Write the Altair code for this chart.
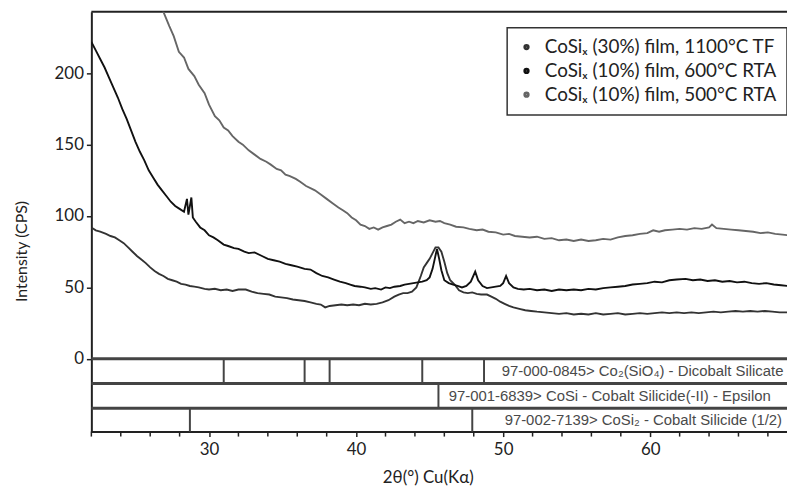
import altair as alt
import pandas as pd

# ---------------- data ----------------
a_x = [25.8, 26.3, 26.9, 27.3, 27.6, 27.95, 28.3, 28.6, 29.0, 29.3, 29.7, 30.0, 30.4, 30.7, 31.0, 31.3, 31.6, 32.0,
       32.3, 32.7, 33.1, 33.5, 33.9, 34.2, 34.6, 34.9, 35.2, 35.5, 35.9, 36.2, 36.6, 37.0, 37.2, 37.6, 38.0, 38.4,
       38.8, 39.1, 39.4, 39.7, 40.0, 40.3, 40.6, 40.9, 41.2, 41.5, 41.8, 42.1, 42.4, 42.7, 43.0, 43.3, 43.6, 43.9,
       44.2, 44.6, 45.0, 45.4, 45.7, 46.0, 46.4, 46.8, 47.3, 47.7, 48.2, 48.6, 49.0, 49.5, 50.0, 50.4, 50.8, 51.3,
       51.8, 52.3, 52.8, 53.3, 53.8, 54.3, 54.8, 55.3, 55.8, 56.3, 56.8, 57.3, 57.8, 58.3, 58.8, 59.3, 59.8, 60.2,
       60.6, 61.0, 61.5, 62.0, 62.5, 63.0, 63.5, 64.0, 64.2, 64.5, 65.0, 65.5, 66.0, 66.5, 67.0, 67.5, 68.0, 68.5,
       69.0, 69.4]
a_y = [270, 257, 243, 233, 226, 215, 211, 203, 198, 192, 186, 178, 170, 167, 162, 160, 156, 152,
       150, 146, 143, 140, 138, 136, 133, 132, 129, 128, 126, 124, 121, 119, 118, 115, 112, 109,
       106, 104, 102, 99, 97, 94, 93, 91, 92, 90.5, 92, 93, 94, 96, 97.5, 95, 96, 95,
       96.5, 95.5, 97, 96, 96.5, 95, 94, 92.5, 92, 91, 90, 90.5, 89, 88.5, 87, 87.5, 86, 85.5,
       85, 85.5, 84, 84.5, 83, 83.5, 82.5, 83.5, 82.5, 83, 84, 83.5, 85, 86, 86.5, 87.5, 88, 90,
       89, 90, 90.5, 91, 90.5, 91.5, 91, 92, 94, 91.5, 91, 90.5, 90, 89.5, 89, 88, 88.5, 87.5,
       87, 86.5]

b_x = [22.0, 22.3, 22.6, 22.9, 23.2, 23.5, 23.8, 24.1, 24.4, 24.7, 25.0, 25.3, 25.6, 25.9, 26.2, 26.5, 26.8, 27.1,
       27.4, 27.7, 28.0, 28.3, 28.5, 28.6, 28.8, 28.9, 29.1, 29.4, 29.7, 30.0, 30.3, 30.6, 31.0, 31.3, 31.7, 32.0,
       32.4, 32.7, 33.1, 33.6, 34.0, 34.4, 34.8, 35.2, 35.6, 36.0, 36.5, 36.9, 37.3, 37.7, 38.1, 38.5, 38.9, 39.3,
       39.6, 39.9, 40.3, 40.6, 41.0, 41.3, 41.7, 42.0, 42.3, 42.6, 43.0, 43.3, 43.6, 43.9, 44.2, 44.5, 44.8, 45.0,
       45.2, 45.35, 45.5, 45.65, 45.8, 46.0, 46.3, 46.6, 46.9, 47.2, 47.5, 47.8, 48.1, 48.3, 48.6, 48.9, 49.2, 49.5,
       49.8, 50.0, 50.2, 50.4, 50.7, 51.0, 51.4, 51.8, 52.3, 52.8, 53.3, 53.8, 54.3, 54.8, 55.3, 55.8, 56.3, 56.8,
       57.3, 57.8, 58.3, 58.8, 59.3, 59.8, 60.3, 60.8, 61.3, 61.8, 62.4, 62.9, 63.4, 63.9, 64.4, 64.9, 65.4, 65.9,
       66.4, 66.9, 67.4, 67.9, 68.4, 68.9, 69.4]
b_y = [222, 216, 210, 204, 197, 190, 183, 175, 168, 160, 152, 145, 139, 132, 127, 122, 118, 114,
       110, 107, 105, 103, 112, 101, 113, 99, 96, 92, 90, 86.5, 85, 83, 80, 79, 77.5, 77,
       75, 74, 74.5, 72, 70, 69, 68, 66.5, 65.5, 64.5, 63, 62.5, 60, 58, 57, 55.5, 54, 53,
       52, 51, 50.5, 50, 49, 49.5, 48.5, 50, 49.5, 50.5, 51, 52, 52.5, 53, 53.5, 54, 55, 57,
       63, 70, 77, 70, 62, 55, 53, 52, 51, 50, 51, 54, 61, 55, 51, 49.5, 50, 50.5,
       51, 53, 58, 53, 50, 49, 48.5, 49, 48, 48.5, 47.5, 48.5, 48, 48.5, 48, 49, 48.5, 49.5,
       50, 50.5, 51, 52, 52.5, 53, 54, 53.5, 55, 55.5, 56, 55, 55.5, 54.5, 55, 54, 54.5, 53.5,
       54, 53, 52.5, 53, 52, 51.5, 51]

c_x = [22.0, 22.3, 22.6, 23.0, 23.3, 23.6, 23.9, 24.2, 24.5, 24.8, 25.1, 25.4, 25.7, 26.0, 26.3, 26.6, 26.9, 27.2,
       27.5, 27.8, 28.1, 28.4, 28.7, 29.0, 29.3, 29.7, 30.0, 30.4, 30.8, 31.2, 31.6, 32.0, 32.5, 32.9, 33.3, 33.7,
       34.1, 34.5, 34.9, 35.3, 35.7, 36.1, 36.5, 36.9, 37.3, 37.6, 37.9, 38.2, 38.6, 39.0, 39.4, 39.8, 40.2, 40.6,
       41.0, 41.4, 41.8, 42.2, 42.6, 42.9, 43.2, 43.5, 43.8, 44.1, 44.4, 44.6, 44.8, 45.0, 45.2, 45.4, 45.6, 45.8,
       46.0, 46.2, 46.4, 46.7, 47.0, 47.3, 47.6, 47.9, 48.2, 48.5, 48.9, 49.2, 49.5, 49.8, 50.1, 50.4, 50.7, 51.1,
       51.5, 51.9, 52.3, 52.8, 53.3, 53.8, 54.3, 54.8, 55.3, 55.8, 56.3, 56.8, 57.3, 57.8, 58.3, 58.8, 59.3, 59.8,
       60.3, 60.8, 61.3, 61.8, 62.3, 62.8, 63.3, 63.8, 64.3, 64.8, 65.3, 65.8, 66.3, 66.8, 67.3, 67.8, 68.3, 68.8,
       69.4]
c_y = [92, 90, 89, 87.5, 86, 85, 83, 81, 78, 75, 72, 69.5, 67, 64, 61.5, 59.5, 58, 56,
       55, 54, 52.5, 52, 51, 50.5, 50, 49, 48.5, 49, 48, 48.5, 47.5, 48.5, 48.5, 47, 46, 45.5,
       45, 43.5, 43, 42.5, 41.5, 41, 40.5, 39.5, 38.5, 38, 36, 37, 37.5, 38, 37.5, 38, 37.5, 38.5,
       38, 38.5, 39.5, 41, 43.5, 45, 46, 46, 47, 50, 58, 64, 67, 70, 74, 78, 78, 75,
       68, 60, 55, 52, 48, 46.5, 46, 46.5, 45.5, 45, 45, 43.5, 42, 40, 38.5, 37, 36, 35,
       34, 33.5, 33, 32.5, 32, 31.5, 32, 31, 31.5, 31, 32, 31, 31.5, 32, 31, 31.5, 32, 31.5,
       32, 32.5, 32, 32.5, 32, 32.5, 32, 32.5, 33, 32.5, 33, 33.5, 33, 33.5, 33, 33.5, 33, 32.5,
       32.5]

series_names = ["CoSiₓ (30%) film, 1100°C TF", "CoSiₓ (10%) film, 600°C RTA", "CoSiₓ (10%) film, 500°C RTA"]
series_colors = ["#333333", "#111111", "#666666"]

# reference pattern rows (peak positions, 2θ)
row1_peaks = [31.0, 36.5, 38.2, 44.5, 48.7]
row2_peaks = [45.6]
row3_peaks = [28.7, 47.9]
row_labels = ["97-000-0845> Co₂(SiO₄) - Dicobalt Silicate",
              "97-001-6839> CoSi - Cobalt Silicide(-II) - Epsilon",
              "97-002-7139> CoSi₂ - Cobalt Silicide (1/2)"]
row_label_x = [49.9, 46.3, 50.1]
row_bounds = [0, -17.3, -34.6, -51]

x_label_ticks = [30, 40, 50, 60]
x_minor_ticks = [22, 24, 26, 28, 32, 34, 36, 38, 42, 44, 46, 48, 52, 54, 56, 58, 62, 64, 66, 68]
y_ticks = [0, 50, 100, 150, 200]

# ---------------- tables ----------------
recs = []
for xs, ys, name in [(c_x, c_y, series_names[0]), (b_x, b_y, series_names[1]), (a_x, a_y, series_names[2])]:
    for xv, yv in zip(xs, ys):
        recs.append({"x": xv, "y": yv, "s": name})
df = pd.DataFrame(recs)

peaks = []
for i, pk in enumerate([row1_peaks, row2_peaks, row3_peaks]):
    for p in pk:
        peaks.append({"x": p, "y": row_bounds[i], "y2": row_bounds[i + 1]})
peaks_df = pd.DataFrame(peaks)

labels_df = pd.DataFrame({
    "x": row_label_x,
    "y": [(row_bounds[i] + row_bounds[i + 1]) / 2 for i in range(3)],
    "t": row_labels,
})
sep_df = pd.DataFrame({"y": row_bounds[:3]})
top_df = pd.DataFrame({"y": [243]})
minor_df = pd.DataFrame({"x": x_minor_ticks})

W, H = 701, 423
xscale = alt.Scale(domain=[22, 69.3], nice=False, zero=False)
yscale = alt.Scale(domain=[-51, 243], nice=False, zero=False)

lines = alt.Chart(df).mark_line(strokeWidth=1.9, clip=True).encode(
    x=alt.X("x:Q", scale=xscale, axis=alt.Axis(
        values=x_label_ticks, grid=False,
        tickSize=5, tickWidth=1.5, tickColor="#222",
        domainColor="#222", domainWidth=2,
        labelFont="Lato", labelFontSize=17, labelColor="#222", labelPadding=5,
        title="2θ(°) Cu(Kα)", titleFont="Lato", titleFontSize=17, titleFontWeight="normal",
        titleColor="#222", titleX=339, titleY=46, titleAlign="center", titleBaseline="middle")),
    y=alt.Y("y:Q", scale=yscale, axis=alt.Axis(
        values=y_ticks, grid=False,
        tickSize=5, tickWidth=1.5, tickColor="#222",
        domainColor="#222", domainWidth=2,
        labelFont="Lato", labelFontSize=17, labelColor="#222", labelPadding=3,
        title="Intensity (CPS)", titleFont="Lato", titleFontSize=16, titleFontWeight="normal",
        titleColor="#222", titleAngle=270, titleX=-70, titleY=241, titleAlign="center",
        titleBaseline="middle")),
    color=alt.Color("s:N", scale=alt.Scale(domain=series_names, range=series_colors),
                    legend=alt.Legend(title=None, orient="none", legendX=419, legendY=16,
                                      symbolType="circle", symbolSize=8, symbolStrokeWidth=3.5,
                                      labelFont="Lato", labelFontSize=19, labelColor="#222",
                                      labelLimit=400, rowPadding=4, labelOffset=9)),
    detail="s:N",
)

minor = alt.Chart(minor_df).mark_rule(color="#222", strokeWidth=1.5).encode(
    x=alt.X("x:Q", scale=xscale), y=alt.value(H), y2=alt.value(H + 5))

top = alt.Chart(top_df).mark_rule(color="#222", strokeWidth=2).encode(
    y=alt.Y("y:Q", scale=yscale), x=alt.value(0), x2=alt.value(W))

seps = alt.Chart(sep_df).mark_rule(color="#444", strokeWidth=3).encode(
    y=alt.Y("y:Q", scale=yscale), x=alt.value(0), x2=alt.value(W))

peak_rules = alt.Chart(peaks_df).mark_rule(color="#444", strokeWidth=2).encode(
    x=alt.X("x:Q", scale=xscale), y=alt.Y("y:Q", scale=yscale), y2="y2:Q")

texts = alt.Chart(labels_df).mark_text(align="left", baseline="middle",
                                      font="Liberation Sans", fontSize=15,
                                      color="#4a4a4a", clip=True).encode(
    x=alt.X("x:Q", scale=xscale), y=alt.Y("y:Q", scale=yscale), text="t:N")

chart = alt.layer(peak_rules, seps, texts, top, minor, lines).properties(
    width=W, height=H,
    autosize=alt.AutoSizeParams(type="none"),
    padding={"left": 84, "top": 2, "right": 0, "bottom": 61},
    background="white",
).configure_view(stroke=None).configure_legend(
    strokeColor="#333", strokeWidth=1.5, padding=10, fillColor="white")

chart.save("out.html", embed_options={"renderer": "svg", "actions": False})
